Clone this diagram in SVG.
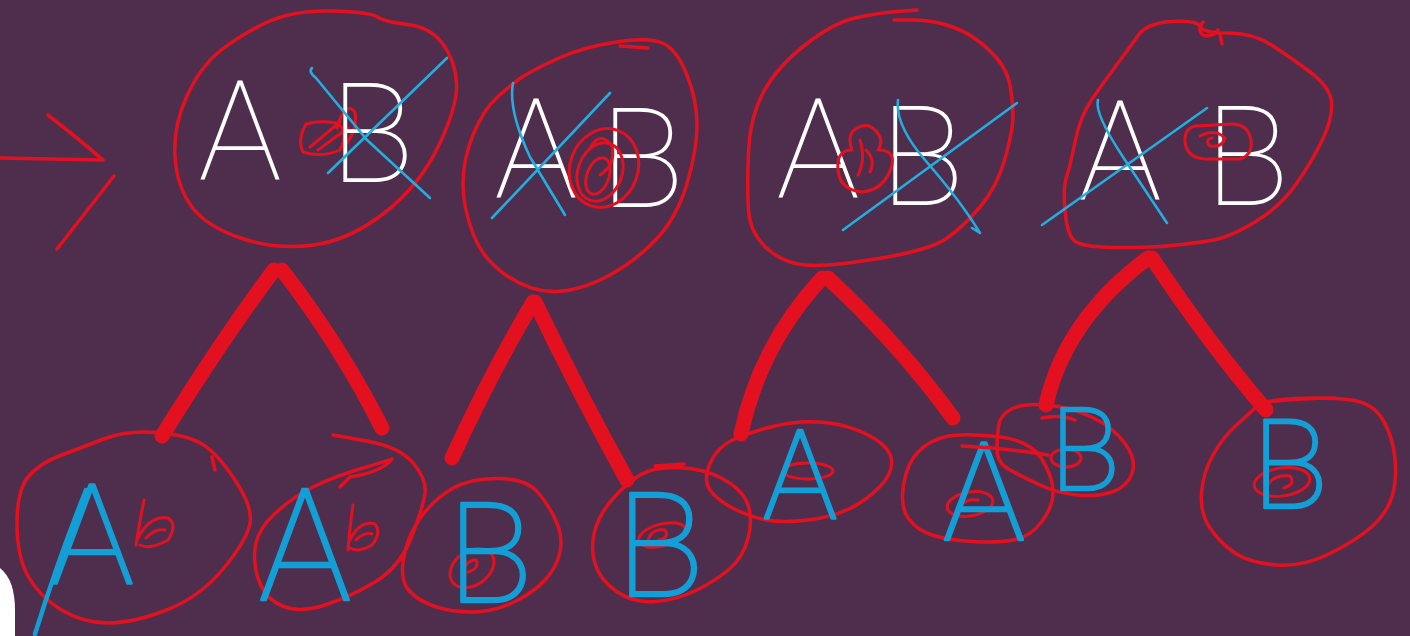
<svg xmlns="http://www.w3.org/2000/svg" width="1410" height="636" viewBox="0 0 1410 636">
<style>
.ol{fill:none;stroke:#e3111f;stroke-width:3.5;stroke-linecap:round;stroke-linejoin:round}
.sc{fill:none;stroke:#e3111f;stroke-width:3;stroke-linecap:round;stroke-linejoin:round}
.cx{fill:none;stroke:#22aee0;stroke-width:2.6;stroke-linecap:round;stroke-linejoin:round}
.bl{fill:none;stroke:#139fd6;stroke-width:4.5;stroke-linecap:round;stroke-linejoin:round}
.leg{fill:none;stroke:#e3111f;stroke-width:15;stroke-linecap:round;stroke-linejoin:round}
.wt{font-family:Roboto,"Liberation Sans",sans-serif;font-weight:100;fill:#ffffff;font-size:140px;text-anchor:middle}
.bt{font-family:Roboto,"Liberation Sans",sans-serif;font-weight:100;fill:#139fd6;stroke:#139fd6;stroke-width:2.5;stroke-linejoin:round;text-anchor:middle}
</style>
<rect width="1410" height="636" fill="#4f2e4d"/>
<path d="M0,568 Q15,580 15,610 L15,636 L0,636 Z" fill="#ffffff"/>

<g id="arrow">
<path class="ol" d="M0,158 L103,160 M48,115 Q80,140 103,160 M114,176 L57,249"/>
</g>

<g id="connectors">
<path class="leg" d="M274,270 Q225,335 162,436"/>
<path class="leg" d="M282,270 Q340,345 382,428"/>
<path class="leg" d="M533,302 Q490,375 452,458"/>
<path class="leg" d="M535,302 Q580,395 627,480"/>
<path class="leg" d="M822,278 Q760,345 741,434"/>
<path class="leg" d="M828,278 Q900,345 953,418"/>
<path class="leg" d="M1148,258 Q1065,320 1046,405"/>
<path class="leg" d="M1152,258 Q1210,345 1266,410"/>
</g>

<g id="top1">
<path class="ol" d="M331.5,11 Q370,12 377.5,17 Q385,22 407.5,24.5 Q430,27 442.5,43.5 Q455,60 456.5,82.5 Q458,105 439,145 Q420,185 385,212.5 Q350,240 313.5,245 Q277,250 242,238.5 Q207,227 192,207 Q177,187 175,157 Q173,127 186.5,97 Q200,67 220,51 Q240,35 266.5,22.5 Q293,10 331.5,11 Z"/>
<path class="sc" d="M306,124 Q297,140 303,152 Q322,158 340,150 Q350,130 336,123 Q320,120 306,124 M310,147 L340,122 M318,150 L348,128 M337,128 Q345,100 355,112 Q358,130 345,145"/>
<text class="wt" x="240" y="180">A</text>
<text class="wt" x="372" y="182">B</text>
<path class="cx" d="M312,68 Q308,72 316,78 L367,140 L430,198 M328,173 L447,58"/>
</g>

<g id="top2">
<path class="ol" d="M558,58.5 Q583,47 616.5,42 Q650,37 663.5,43.5 Q677,50 687,75 Q697,100 697,125 Q697,150 687,183.5 Q677,217 657,238.5 Q637,260 610,275 Q583,290 558,291.5 Q533,293 508,276.5 Q483,260 473,233.5 Q463,207 463,183.5 Q463,160 473,135 Q483,110 498,96.5 Q513,83 523,76.5 Q533,70 558,58.5 M620,46 L648,48"/>
<text class="wt" x="536" y="198">A</text>
<text class="wt" x="642" y="207">B</text>
<ellipse class="sc" cx="604" cy="168" rx="34" ry="40" transform="rotate(20 604 168)"/>
<ellipse class="sc" cx="600" cy="172" rx="22" ry="30" transform="rotate(20 600 172)"/>
<ellipse class="sc" cx="598" cy="176" rx="11" ry="19" transform="rotate(20 598 176)"/>
<path class="sc" d="M590,148 Q600,130 612,146 Q616,165 600,175"/>
<path class="cx" d="M513,83 Q508,110 530,157 L565,215 M492,218 L610,93"/>
</g>

<g id="top3">
<path class="ol" d="M917,10 L897,11.5 Q877,13 855,18 Q833,23 805,45 Q777,67 763.5,92 Q750,117 748.5,152 Q747,187 748.5,210 Q750,233 766.5,248 Q783,263 805,265 Q827,267 878.5,258.5 Q930,250 946.5,238.5 Q963,227 980,207 Q997,187 1005,158.5 Q1013,130 1013,115 Q1013,100 1010,85 Q1007,70 997,58.5 Q987,47 975,38.5 Q963,30 946.5,25 Q930,20 912,20 L894,20"/>
<text class="wt" x="818" y="198">A</text>
<text class="wt" x="922" y="205">B</text>
<path class="sc" d="M852,132 Q865,120 875,130 Q885,140 878,150 Q895,150 892,165 Q885,190 862,192 Q840,190 838,170 Q836,150 852,150 Q848,140 852,132 Z M860,140 Q866,160 858,175 M866,150 Q876,160 870,172"/>
<path class="cx" d="M898,100 Q895,125 925,160 Q960,200 980,233 L972,228 M843,230 L1017,103"/>
</g>

<g id="top4">
<path class="ol" d="M1172,21.5 Q1197,20 1200,26.5 Q1203,33 1228,33 Q1253,33 1271.5,45 Q1290,57 1310,72 Q1330,87 1331.5,102 Q1333,117 1323,138.5 Q1313,160 1296.5,183.5 Q1280,207 1255,222 Q1230,237 1213.5,240 Q1197,243 1172,245.5 Q1147,248 1113.5,247.5 Q1080,247 1073.5,240 Q1067,233 1065,210 Q1063,187 1066.5,177 Q1070,167 1075,142 Q1080,117 1091.5,100 Q1103,83 1116.5,65 Q1130,47 1138.5,35 Q1147,23 1172,21.5 M1203,22 Q1196,32 1205,36 Q1215,36 1218,30 M1220,33 L1222,44"/>
<text class="wt" x="1120" y="200">A</text>
<text class="wt" x="1247" y="205">B</text>
<path class="sc" d="M1196,126 Q1184,128 1185,142 Q1187,158 1205,159 L1240,159 Q1253,155 1251,140 Q1248,124 1232,124 Z M1200,136 Q1215,128 1225,138 Q1222,148 1210,146 Q1204,140 1212,138"/>
<path class="cx" d="M1098,100 Q1094,113 1123,157 L1167,223 M1042,225 L1207,108"/>
</g>

<g id="bot1">
<path class="ol" d="M157,432.5 Q187,435 202,444 Q217,453 235,480 Q253,507 250,523.5 Q247,540 223.5,568.5 Q200,597 166.5,610 Q133,623 108,623 Q83,623 61.5,610 Q40,597 28.5,577 Q17,557 17,523.5 Q17,490 28.5,476.5 Q40,463 61.5,455 Q83,447 105,438.5 Q127,430 157,432.5 M212,457 L215,470"/>
<path class="sc" d="M144,500 Q140,520 136,545 M138,538 Q150,515 168,518 Q178,525 168,540 Q150,550 140,545 M146,538 Q155,528 165,530"/>
<path class="bl" d="M35,634 Q58,560 86,490"/>
<text class="bt" x="92" y="584" font-size="140">A</text>
</g>

<g id="bot2">
<path class="ol" d="M333,435 L366.5,441 Q400,447 413.5,463.5 Q427,480 425,493.5 Q423,507 411.5,537 Q400,567 375,582 Q350,597 325,605 Q300,613 283.5,606.5 Q267,600 260,583.5 Q253,567 255,548.5 Q257,530 275,513.5 Q293,497 313,487 Q333,477 361.5,468.5 Q390,460 392,459 Q382,472 350,477 L340,487"/>
<path class="sc" d="M353,505 Q350,525 348,550 M350,540 Q360,520 375,524 Q382,532 372,545 Q358,553 350,548 M356,540 Q364,532 372,534"/>
<text class="bt" x="305" y="600" font-size="155">A</text>
</g>

<g id="bot3">
<path class="ol" d="M498.5,478.5 Q527,479 538.5,493 Q550,507 556.5,522 Q563,537 560,552 Q557,567 545,580 Q533,593 513,602.5 Q493,612 471.5,612 Q450,612 433.5,606 Q417,600 408.5,590 Q400,580 403.5,558.5 Q407,537 420,518.5 Q433,500 451.5,489 Q470,478 498.5,478.5"/>
<ellipse class="sc" cx="472" cy="568" rx="24" ry="17" transform="rotate(-35 472 568)"/>
<path class="sc" d="M462,575 Q465,560 476,560 Q480,568 468,572"/>
<text class="bt" x="490" y="602" font-size="140">B</text>
</g>

<g id="bot4">
<path class="ol" d="M678,467.5 Q703,468 723,479 Q743,490 748,505 Q753,520 748,538.5 Q743,557 730,568.5 Q717,580 697,590 Q677,600 655,601.5 Q633,603 616.5,591.5 Q600,580 595,563.5 Q590,547 595,530 Q600,513 613.5,498 Q627,483 640,475 Q653,467 678,467.5 M655,466 L684,464"/>
<ellipse class="sc" cx="662" cy="535" rx="24" ry="11" transform="rotate(-15 662 535)"/>
<path class="sc" d="M648,540 Q652,528 665,530 Q670,538 658,540"/>
<text class="bt" x="660" y="596" font-size="145">B</text>
</g>

<g id="bot5">
<path class="ol" d="M733.5,439.5 Q750,432 775,426 Q800,420 825,422.5 Q850,425 870,436 Q890,447 891.5,460 Q893,473 880,486.5 Q867,500 850,508.5 Q833,517 808,520 Q783,523 766.5,520 Q750,517 733.5,508.5 Q717,500 710,490 Q703,480 710,463.5 Q717,447 733.5,439.5"/>
<ellipse class="sc" cx="808" cy="471" rx="25" ry="8"/>
<text class="bt" x="800" y="518" font-size="125">A</text>
</g>

<g id="bot6">
<path class="ol" d="M996.5,436.5 Q1030,440 1041.5,458.5 Q1053,477 1053,492 Q1053,507 1041.5,522 Q1030,537 1013.5,540 Q997,543 972,541.5 Q947,540 932,535 Q917,530 908.5,518.5 Q900,507 903.5,485 Q907,463 918.5,451.5 Q930,440 946.5,436.5 Q963,433 996.5,436.5"/>
<ellipse class="sc" cx="970" cy="504" rx="23" ry="12" transform="rotate(-10 970 504)"/>
<path class="sc" d="M958,508 Q965,498 978,500"/>
<text class="bt" x="984" y="540" font-size="138">A</text>
</g>

<g id="bot7">
<path class="ol" d="M998.5,426 Q1000,415 1011.5,409 Q1023,403 1046.5,405 Q1070,407 1091.5,417 Q1113,427 1125,443.5 Q1137,460 1132,473.5 Q1127,487 1112,492 Q1097,497 1077,495 Q1057,493 1040,485 Q1023,477 1010,470 Q997,463 997,450 Q997,437 998.5,426 M962,446 Q1005,448 1048,455 M1042,418 Q1060,414 1075,420"/>
<ellipse class="sc" cx="1066" cy="458" rx="15" ry="9"/>
<text class="bt" x="1085" y="490" font-size="115">B</text>
</g>

<g id="bot8">
<path class="ol" d="M1296.5,398.5 Q1330,397 1351.5,400 Q1373,403 1383,420 Q1393,437 1395,458.5 Q1397,480 1392,496.5 Q1387,513 1372,526.5 Q1357,540 1330,553.5 Q1303,567 1276.5,565 Q1250,563 1235,553 Q1220,543 1210,528 Q1200,513 1201.5,493 Q1203,473 1213,455 Q1223,437 1236.5,425 Q1250,413 1256.5,406.5 Q1263,400 1296.5,398.5 M1268,402 Q1300,398 1335,398"/>
<ellipse class="sc" cx="1282" cy="482" rx="28" ry="14" transform="rotate(-8 1282 482)"/>
<path class="sc" d="M1266,488 Q1272,474 1290,476 Q1296,484 1284,488"/>
<text class="bt" x="1290" y="508" font-size="125">B</text>
</g>
</svg>
